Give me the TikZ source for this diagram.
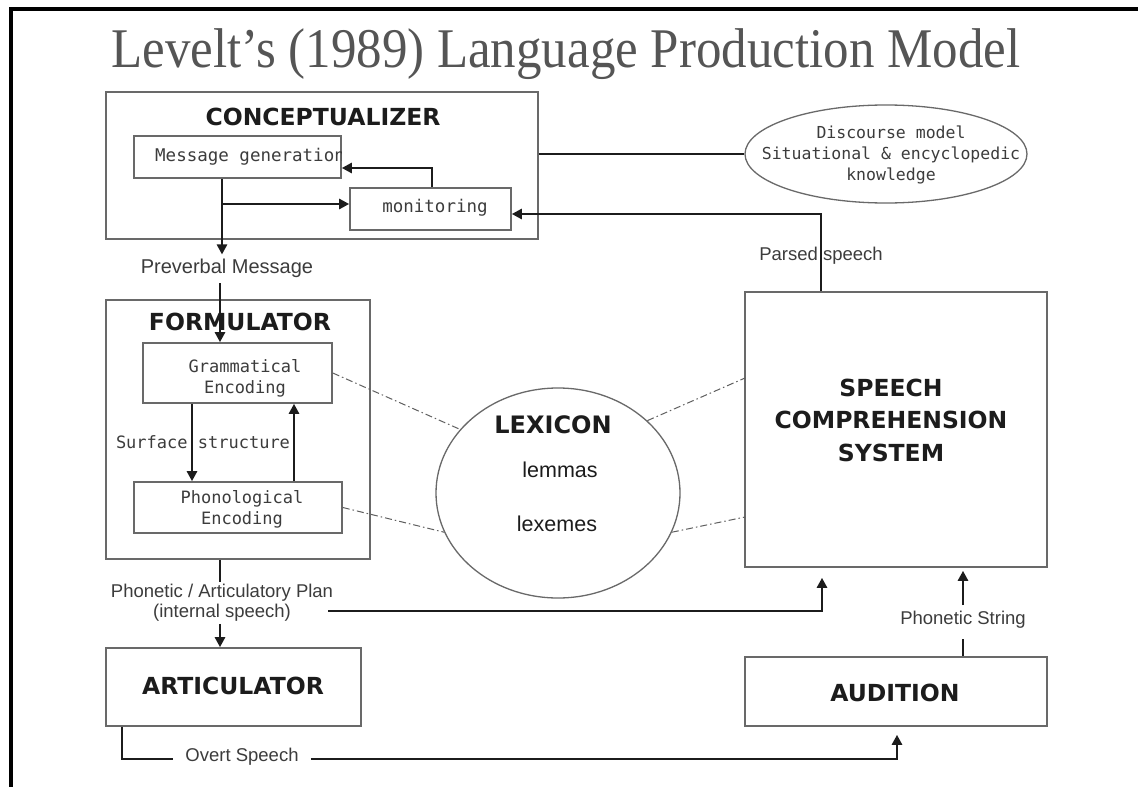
\documentclass[tikz,border=0pt]{standalone}
\usepackage{fontspec}
\setmainfont{Liberation Sans}
\newfontfamily\monofont{DejaVu Sans Mono}
\newfontfamily\heavyfont{DejaVu Sans}
\newfontfamily\titlefont{Liberation Serif}
\usetikzlibrary{arrows.meta,shapes.geometric,calc}

\definecolor{edge}{RGB}{105,105,105}
\definecolor{ink}{RGB}{28,28,28}
\definecolor{soft}{RGB}{60,60,60}
\definecolor{titlegray}{RGB}{85,85,85}
\definecolor{dashgray}{RGB}{95,95,95}

\tikzset{
  stagebox/.style={draw=edge, line width=1.6pt, rectangle, inner sep=0pt},
  ovalbox/.style={draw=edge, line width=1.3pt, ellipse, inner sep=0pt},
  headtext/.style={font=\heavyfont\bfseries\fontsize{23.5}{32.5}\selectfont, text=ink, align=center, inner sep=0pt},
  monotext/.style={font=\monofont\fontsize{17}{21}\selectfont, text=soft, align=center, inner sep=0pt},
  flowtext/.style={font=\fontsize{18.5}{20}\selectfont, text=soft, align=center, inner sep=0pt},
  flowline/.style={line width=2.8pt, draw=ink},
  flowarrow/.style={flowline, -{Triangle[length=10pt,width=10pt]}},
  lexlink/.style={draw=dashgray, line width=1pt, dash pattern=on 7pt off 3pt on 1.5pt off 3pt},
}

\begin{document}
\begin{tikzpicture}[x=1pt,y=-1pt]
\useasboundingbox (0,0) rectangle (1138,787);
\fill[white] (0,0) rectangle (1138,787);

% slide frame
\draw[line width=3.5pt, black] (9,9) -- (1138,9);
\draw[line width=4pt, black] (11,7) -- (11,787);

% title
\node[anchor=base, inner sep=0pt, text=titlegray, font=\titlefont\fontsize{56}{60}\selectfont] (title) at (566,67)
  {\scalebox{0.91}[1]{Levelt’s (1989) Language Production Model}};

% ---- conceptualizer ----
\node[stagebox, minimum width=432pt, minimum height=147pt] (concept) at (322,165.5) {};
\node[headtext] (conceptlabel) at (323,117) {CONCEPTUALIZER};
\node[stagebox, minimum width=207pt, minimum height=42pt] (msg) at (237.5,157) {};
\begin{scope}
  \clip (msg.south west) rectangle (msg.north east);
  \node[monotext, anchor=west, font=\monofont\fontsize{17.5}{21}\selectfont] (msgtext) at (155,157) {Message generation};
\end{scope}
\node[stagebox, minimum width=161pt, minimum height=42pt] (mon) at (430.5,209) {};
\node[monotext, font=\monofont\fontsize{17.5}{21}\selectfont] (montext) at (435,208) {monitoring};

% discourse model
\node[ovalbox, minimum width=282pt, minimum height=98pt] (disc) at (886,154) {};
\node[monotext, font=\monofont\fontsize{16.5}{21}\selectfont] (disctext) at (891,155)
  {Discourse model\\Situational \& encyclopedic\\knowledge};

% ---- formulator ----
\node[stagebox, minimum width=264pt, minimum height=259pt] (formul) at (238,429.5) {};
\node[headtext] (formlabel) at (240,322) {FORMULATOR};
\node[stagebox, minimum width=189pt, minimum height=60pt] (gram) at (237.5,373) {};
\node[monotext] (gramtext) at (245,378) {Grammatical\\Encoding};
\node[stagebox, minimum width=208pt, minimum height=51pt] (phon) at (238,507.5) {};
\node[monotext] (phontext) at (242,509) {Phonological\\Encoding};
\node[monotext] (surf) at (203,442) {Surface structure};

% ---- lexicon ----
\node[ovalbox, minimum width=244pt, minimum height=210pt] (lex) at (558,493) {};
\node[headtext, font=\heavyfont\bfseries\fontsize{24}{26}\selectfont] (lexlabel) at (553,425) {LEXICON};
\node[flowtext, text=ink, font=\fontsize{21.5}{24}\selectfont] (lemmas) at (560,470) {lemmas};
\node[flowtext, text=ink, font=\fontsize{21.5}{24}\selectfont] (lexemes) at (557,524) {lexemes};

% ---- speech comprehension ----
\node[stagebox, minimum width=302pt, minimum height=275pt] (scs) at (896,429.5) {};
\node[headtext] (scstext) at (891,420) {SPEECH\\COMPREHENSION\\SYSTEM};

% ---- articulator / audition ----
\node[stagebox, minimum width=255pt, minimum height=78pt] (artic) at (233.5,687) {};
\node[headtext] (artictext) at (233,686) {ARTICULATOR};
\node[stagebox, minimum width=302pt, minimum height=69pt] (aud) at (896,691.5) {};
\node[headtext] (audtext) at (895,693) {AUDITION};

% ---- flow labels ----
\node[flowtext, font=\fontsize{20}{22}\selectfont] (prv) at (227,268) {Preverbal Message};
\node[flowtext] (parsed) at (821,256) {Parsed speech};
\node[flowtext] (plan) at (222,603) {Phonetic / Articulatory Plan\\(internal speech)};
\node[flowtext] (overt) at (242,757) {Overt Speech};
\node[flowtext] (pstr) at (963,620) {Phonetic String};

% ---- connectors ----
\coordinate (jmsg) at (222,204);
\draw[flowarrow] (jmsg |- msg.south) -- ($(jmsg |- prv.north)+(0,-4)$);
\draw[flowarrow] (jmsg) -- (jmsg -| mon.west);
\coordinate (kmon) at (432,168);
\draw[flowarrow] (kmon |- mon.north) -- (kmon) -- (kmon -| msg.east);
\draw[flowline] (concept.east |- disc.west) -- (disc.west);
\coordinate (kparse) at (821,214);
\draw[flowarrow] (kparse |- scs.north) -- (kparse) -- (kparse -| mon.east);

\coordinate (jform) at (220,283);
\draw[flowarrow] (jform) -- (jform |- gram.north);
\coordinate (xdown) at (192,0);
\coordinate (xup) at (294,0);
\draw[flowarrow] (xdown |- gram.south) -- (xdown |- phon.north);
\draw[flowarrow] (xup |- phon.north) -- (xup |- gram.south);

\draw[lexlink] (gram.east) -- (lex.147);
\draw[lexlink] (phon.east) -- (lex.199);
\coordinate (scsA) at (745,378);
\coordinate (scsB) at (745,517);
\draw[lexlink] (lex.39) -- (scsA);
\draw[lexlink] (lex.341) -- (scsB);

\coordinate (xplan) at (220,0);
\draw[flowline] (xplan |- formul.south) -- ($(xplan |- plan.north)+(0,-2)$);
\draw[flowarrow] ($(xplan |- plan.south)+(0,2)$) -- (xplan |- artic.north);
\coordinate (planend) at (328,611);
\coordinate (kplan) at (822,611);
\draw[flowarrow, shorten >=10pt] (planend) -- (kplan) -- (kplan |- scs.south);

\coordinate (xovert) at (122,759);
\draw[flowline, shorten >=12pt] (xovert |- artic.south) -- (xovert) -- (xovert -| overt.west);
\coordinate (kaud) at (897,759);
\draw[flowarrow, shorten <=12pt, shorten >=8pt] (overt.east |- kaud) -- (kaud) -- (kaud |- aud.south);

\coordinate (xstr) at (963,0);
\draw[flowline, shorten >=10pt] (xstr |- aud.north) -- (xstr |- pstr.south);
\draw[flowarrow, shorten <=6pt, shorten >=3pt] (xstr |- pstr.north) -- (xstr |- scs.south);
\end{tikzpicture}
\end{document}
